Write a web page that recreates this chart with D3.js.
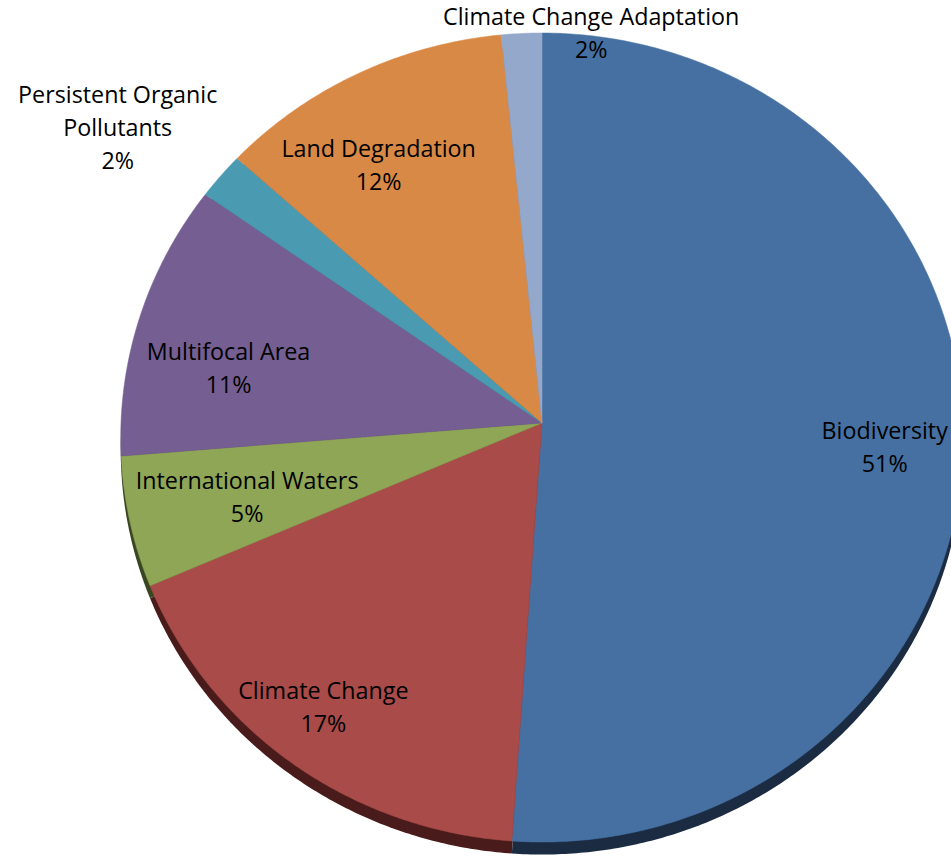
<!DOCTYPE html>
<html>
<head>
<meta charset="utf-8">
<script src="https://cdn.jsdelivr.net/npm/d3@7"></script>
<style>
  body { margin: 0; background: #fff; }
  svg { display: block; }
</style>
</head>
<body>
<div id="chart"></div>
<script>
// Data (shares in %)
const categories = ["Biodiversity", "Climate Change", "International Waters", "Multifocal Area",
    "Persistent Organic Pollutants", "Land Degradation", "Climate Change Adaptation"];
const shares = [51.1, 17.4, 5.2, 11.1, 1.9, 11.7, 1.6];

// Colours: top face and darker side wall
const faceColors = ["#4670a2", "#a84b49", "#8ea655", "#755e92", "#4a9bb1", "#d98946", "#94a8cc"];
const sideColors = ["#1b2b42", "#4a1b1b", "#3a4522", "#30263d", "#1e4049", "#5a381c", "#3d4555"];

const W = 951, H = 856;
const cx = 542, cy = 423;      // apex of the slices
const rx = 421, ry = 404;      // radii of the tilted disc
const tilt = 0.0359;           // perspective: near edge looks bigger
const depth = 12.5;            // thickness of the pie
const fontSize = 23.3, lineH = 33;

// hand placement of the labels (Excel "best fit"), px from the computed spot
const labelNudge = {
    "Biodiversity": [10, 13],
    "Climate Change": [-22, 18],
    "International Waters": [30, -4],
    "Multifocal Area": [5, 29],
    "Persistent Organic Pollutants": [9, -5],
    "Land Degradation": [-17, 20],
    "Climate Change Adaptation": [70, 0]
};

const svg = d3.select("#chart")
    .append("svg")
    .attr("width", W)
    .attr("height", H)
    .attr("viewBox", `0 0 ${W} ${H}`);

const data = categories.map((name, i) => ({
    name,
    share: shares[i],
    face: faceColors[i],
    side: sideColors[i]
}));

const pie = d3.pie().sort(null).value(d => d.share);
const arcs = pie(data);
const total = d3.sum(shares);

// angle clockwise from 12 o'clock, r as fraction of radius -> screen point
function project(theta, r, dy = 0) {
    const u = r * Math.sin(theta);
    const v = -r * Math.cos(theta);
    const s = 1 / (1 - tilt * v);
    return [cx + rx * u * s, cy + ry * v * s + dy];
}

function slicePath(a, dy) {
    const pts = [project(0, 0, dy)];
    const n = Math.max(2, Math.ceil((a.endAngle - a.startAngle) / (Math.PI / 360)));
    for (let k = 0; k <= n; k++) {
        const t = a.startAngle + (a.endAngle - a.startAngle) * k / n;
        pts.push(project(t, 1, dy));
    }
    return d3.line()(pts) + "Z";
}

// side wall (drawn as the pie pushed down), then top faces
svg.append("g")
    .selectAll("path")
    .data(arcs)
    .enter()
    .append("path")
    .attr("d", d => slicePath(d, depth))
    .attr("fill", d => d.data.side);

svg.append("g")
    .selectAll("path")
    .data(arcs)
    .enter()
    .append("path")
    .attr("d", d => slicePath(d, 0))
    .attr("fill", d => d.data.face)
    .attr("stroke", d => d.data.face)
    .attr("stroke-width", 0.5);

// Labels
const labelG = svg.append("g")
    .style("font-family", "'Open Sans', 'Noto Sans', sans-serif")
    .style("font-size", fontSize + "px")
    .attr("fill", "#000");

// text width helper
const probe = labelG.append("text").attr("visibility", "hidden");
function textWidth(str) {
    probe.text(str);
    return probe.node().getComputedTextLength();
}

function wrap(str, maxW) {
    const words = str.split(" ");
    const lines = [];
    let cur = "";
    words.forEach(w => {
        const test = cur ? cur + " " + w : w;
        if (cur && textWidth(test) > maxW) {
            lines.push(cur);
            cur = w;
        } else {
            cur = test;
        }
    });
    lines.push(cur);
    return lines;
}

arcs.forEach(a => {
    const mid = (a.startAngle + a.endAngle) / 2;
    const pct = Math.round(a.data.share / total * 100) + "%";
    const inside = a.data.share / total >= 0.03;
    let lines, x, y0;

    if (inside) {
        lines = [a.data.name, pct];
        const [ax, ay] = project(mid, 0.79);
        x = ax;
        y0 = ay - lineH * (lines.length - 1) / 2;
    } else {
        const [ax, ay] = project(mid, 1.02);
        const s = Math.sin(mid), c = Math.cos(mid);
        if (Math.abs(s) < 0.3) {
            // near the top: centred, kept inside the chart
            lines = [a.data.name, pct];
            x = ax;
            y0 = Math.max(17, ay - 8 - lineH * (lines.length - 1));
        } else {
            lines = wrap(a.data.name, 215).concat([pct]);
            const boxW = d3.max(lines, textWidth);
            x = s < 0 ? ax - 6 - boxW / 2 : ax + 6 + boxW / 2;
            y0 = c > 0 ? ay - 5 - lineH * (lines.length - 1) : ay + 5;
        }
    }

    const nudge = labelNudge[a.data.name] || [0, 0];
    x += nudge[0];
    y0 += nudge[1];

    const t = labelG.append("text")
        .attr("text-anchor", "middle");
    lines.forEach((ln, i) => {
        t.append("tspan")
            .attr("x", x)
            .attr("y", y0 + i * lineH)
            .attr("dy", "0.35em")
            .text(ln);
    });
});

probe.remove();
</script>
</body>
</html>
